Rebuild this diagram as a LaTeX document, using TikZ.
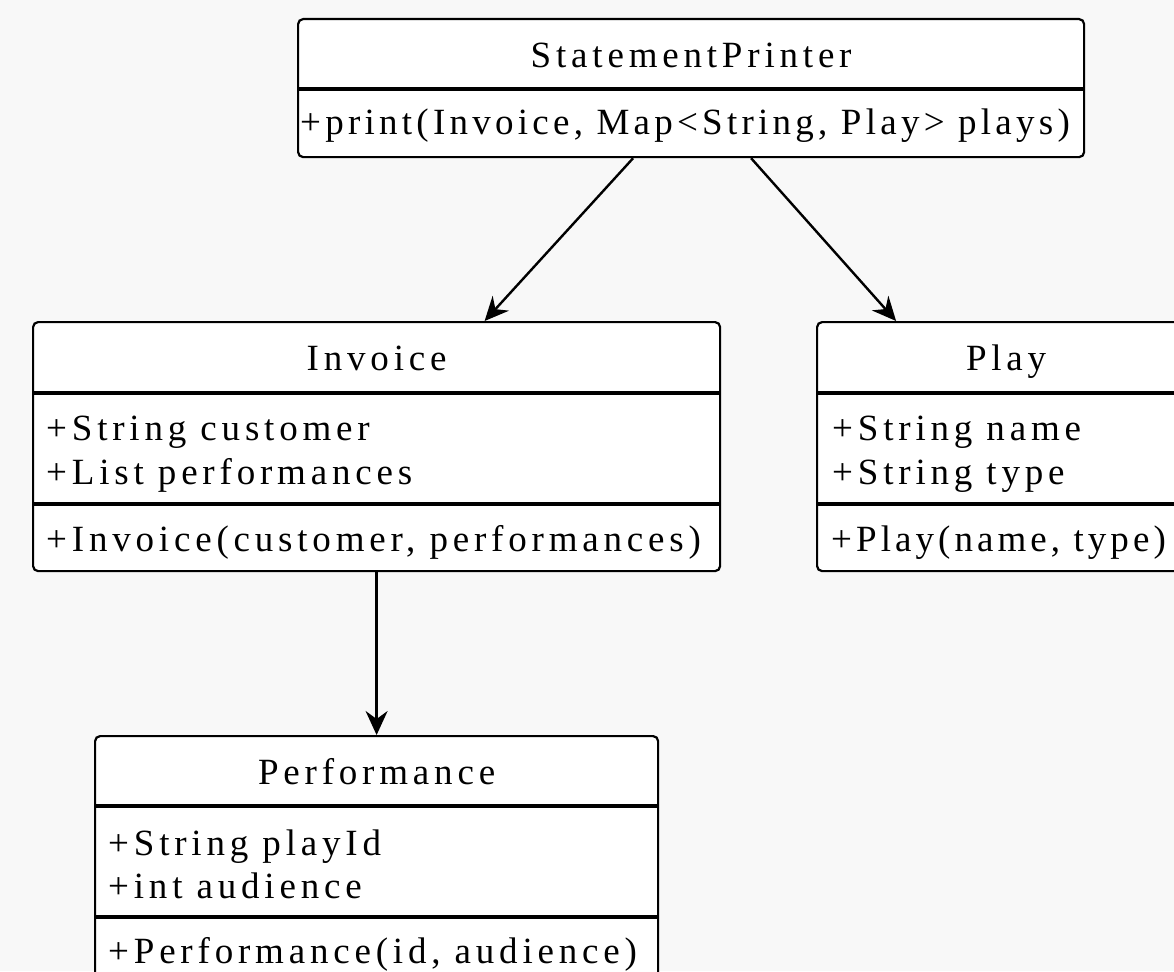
\documentclass[tikz,border=0pt]{standalone}
\usepackage{fontspec}
\setmainfont{Liberation Serif}[LetterSpace=13]
\usetikzlibrary{arrows.meta}
\definecolor{canvas}{RGB}{248,248,248}
\tikzset{
  classbox/.style={draw, line width=2.2pt, rounded corners=5pt, fill=white, anchor=north west, inner sep=0pt},
  divider/.style={line width=3.6pt},
  title/.style={font=\fontsize{37}{44}\selectfont, inner sep=0pt, anchor=base},
  member/.style={font=\fontsize{37}{44}\selectfont, inner sep=0pt, anchor=base west},
  assoc/.style={line width=2.4pt, -{Stealth[length=24pt, width=22pt, inset=8pt]}}
}
\begin{document}
\begin{tikzpicture}[x=1pt, y=1pt]
  \fill[canvas] (0,0) rectangle (1174,-971);
  \useasboundingbox (0,0) rectangle (1174,-971);

  % StatementPrinter
  \node[classbox, minimum width=786pt, minimum height=138pt] (printer) at (297,-18) {};
  \draw[divider] ([yshift=-71pt]printer.north west) -- ([yshift=-71pt]printer.north east);
  \node[title] (printername) at ([yshift=-50pt]printer.north) {StatementPrinter};
  \node[member] (printerop) at ([xshift=3pt, yshift=-117pt]printer.north west) {\addfontfeatures{LetterSpace=11.5}+print(Invoice, Map<String, Play> plays)};

  % Invoice
  \node[classbox, minimum width=687pt, minimum height=249pt] (invoice) at (32,-321) {};
  \draw[divider] ([yshift=-72pt]invoice.north west) -- ([yshift=-72pt]invoice.north east);
  \draw[divider] ([yshift=-183pt]invoice.north west) -- ([yshift=-183pt]invoice.north east);
  \node[title] (invoicename) at ([yshift=-49pt]invoice.north) {Invoice};
  \node[member] (invoicecust) at ([xshift=14pt, yshift=-119pt]invoice.north west) {+String customer};
  \node[member] (invoiceperf) at ([xshift=14pt, yshift=-163pt]invoice.north west) {+List performances};
  \node[member] (invoiceop) at ([xshift=14pt, yshift=-230pt]invoice.north west) {+Invoice(customer, performances)};

  % Play
  \node[classbox, minimum width=366pt, minimum height=249pt] (play) at (816,-321) {};
  \draw[divider] ([yshift=-72pt]play.north west) -- ([yshift=-72pt]play.north east);
  \draw[divider] ([yshift=-183pt]play.north west) -- ([yshift=-183pt]play.north east);
  \node[title] (playname) at ([xshift=6pt, yshift=-49pt]play.north) {Play};
  \node[member] (playname2) at ([xshift=16pt, yshift=-119pt]play.north west) {+String name};
  \node[member] (playtype) at ([xshift=16pt, yshift=-163pt]play.north west) {+String type};
  \node[member] (playop) at ([xshift=15pt, yshift=-230pt]play.north west) {\addfontfeatures{LetterSpace=11}+Play(name, type)};

  % Performance
  \node[classbox, minimum width=563pt, minimum height=260pt] (perf) at (94,-735) {};
  \draw[divider] ([yshift=-71pt]perf.north west) -- ([yshift=-71pt]perf.north east);
  \draw[divider] ([yshift=-182pt]perf.north west) -- ([yshift=-182pt]perf.north east);
  \node[title] (perfname) at ([yshift=-49pt]perf.north) {Performance};
  \node[member] (perfid) at ([xshift=14pt, yshift=-120pt]perf.north west) {+String playId};
  \node[member] (perfaud) at ([xshift=14pt, yshift=-163pt]perf.north west) {+int audience};
  \node[member] (perfop) at ([xshift=14pt, yshift=-228pt]perf.north west) {+Performance(id, audience)};

  \draw[assoc] ([xshift=-58pt]printer.south) -- ([xshift=108pt]invoice.north);
  \draw[assoc] ([xshift=60pt]printer.south) -- ([xshift=-104pt]play.north);
  \draw[assoc] (invoice.south) -- (invoice.south |- perf.north);
\end{tikzpicture}
\end{document}
